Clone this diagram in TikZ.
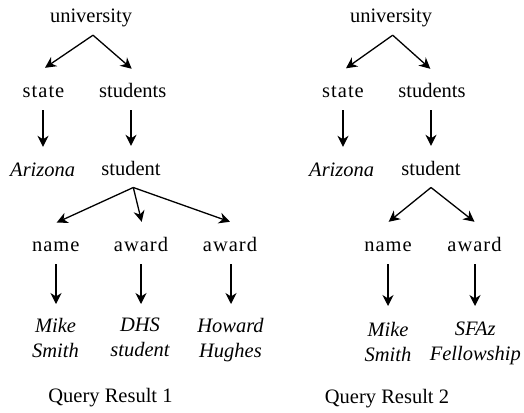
\documentclass[tikz,border=0pt]{standalone}
\usepackage{fontspec}
\setmainfont{Liberation Serif}
\newfontfamily\spc[LetterSpace=5]{Liberation Serif}
\usetikzlibrary{arrows.meta,calc}
\begin{document}
\begin{tikzpicture}[x=1pt,y=-1pt,
  lbl/.style={inner sep=0pt, anchor=base, text height=15pt, text depth=5pt,
    font=\fontsize{20.5pt}{25pt}\selectfont},
  slbl/.style={lbl, font=\fontsize{20.5pt}{25pt}\selectfont\spc},
  val/.style={inner sep=0pt, anchor=north, align=center,
    font=\fontsize{20.5pt}{25pt}\selectfont\itshape},
  captxt/.style={inner sep=0pt, anchor=base, font=\fontsize{20.5pt}{25pt}\selectfont},
  arr/.style={-{Stealth[length=11pt,width=11pt,inset=3.5pt]}, line width=1.3pt}]
\useasboundingbox (0,0) rectangle (524,412);
% ---------- left tree ----------
\node[lbl] (u1) at (91,22.5) {university};
\node[slbl] (st1) at (43.5,97.5) {state};
\node[lbl] (ss1) at (132.7,97.5) {students};
\node[lbl, font=\fontsize{20.5pt}{25pt}\selectfont\itshape] (az1) at (42.7,176) {Arizona};
\node[lbl] (sd1) at (131,175) {student};
\node[slbl] (n1) at (55.8,251) {name};
\node[slbl] (a1) at (141,251) {award};
\node[slbl] (a2) at (230,251) {award};
\node[val] (ms1) at (55.5,318) {Mike\\Smith};
\node[val] (dh) at (140,318) {DHS\\student};
\node[val] (hh) at (230.5,318) {Howard\\Hughes};
\node[captxt] (q1) at (110.5,402) {Query Result 1};
\draw[arr] ($(u1.south)+(2,7.5)$) -- ($(st1.north)+(1.5,-14.5)$);
\draw[arr] ($(u1.south)+(2,7.5)$) -- ($(ss1.north)+(-1,-13.5)$);
\draw[arr] ($(st1.south)+(-0.5,7.5)$) -- ($(st1.south |- az1.north)+(-0.5,-14)$);
\draw[arr] ($(sd1.north |- ss1.south)+(0,7.5)$) -- ($(sd1.north)+(0,-14)$);
\draw[arr] ($(sd1.south)+(2.3,7.3)$) -- ($(n1.north)+(0.9,-13.3)$);
\draw[arr] ($(sd1.south)+(2.3,7.3)$) -- ($(a1.north)+(0.7,-14)$);
\draw[arr] ($(sd1.south)+(2.3,7.3)$) -- ($(a2.north)+(0,-14)$);
\draw[arr] ($(n1.south)+(0.2,8)$) -- ($(n1.south |- ms1.north)+(0.2,-14)$);
\draw[arr] ($(a1.south)+(0,8)$) -- ($(a1.south |- dh.north)+(0,-14)$);
\draw[arr] ($(a2.south)+(1,8)$) -- ($(a2.south |- hh.north)+(1,-14)$);
% ---------- right tree ----------
\node[lbl] (u2) at (391,22.5) {university};
\node[slbl] (st2) at (343,97.5) {state};
\node[lbl] (ss2) at (432,97.5) {students};
\node[lbl, font=\fontsize{20.5pt}{25pt}\selectfont\itshape] (az2) at (341.7,176) {Arizona};
\node[lbl] (sd2) at (431,175) {student};
\node[slbl] (n2) at (388,251) {name};
\node[slbl] (a3) at (474.5,251) {award};
\node[val] (ms2) at (388,322) {Mike\\Smith};
\node[val] (sf) at (475.3,322) {SFAz\\Fellowship};
\node[captxt] (q2) at (387,403) {Query Result 2};
\draw[arr] ($(u2.south)+(1.7,7.5)$) -- ($(st2.north)+(3,-14)$);
\draw[arr] ($(u2.south)+(1.7,7.5)$) -- ($(ss2.north)+(-1.7,-13.5)$);
\draw[arr] ($(st2.south)+(0,7.5)$) -- ($(st2.south |- az2.north)+(0,-14)$);
\draw[arr] ($(sd2.north |- ss2.south)+(0,7.5)$) -- ($(sd2.north)+(0,-14)$);
\draw[arr] ($(sd2.south)+(0,7.3)$) -- ($(n2.north)+(0.7,-14)$);
\draw[arr] ($(sd2.south)+(0,7.3)$) -- ($(a3.north)+(0,-14)$);
\draw[arr] ($(n2.south)+(0,8)$) -- ($(n2.south |- ms2.north)+(0,-16)$);
\draw[arr] ($(a3.south)+(0.5,8)$) -- ($(a3.south |- sf.north)+(0.5,-16)$);
\end{tikzpicture}
\end{document}
